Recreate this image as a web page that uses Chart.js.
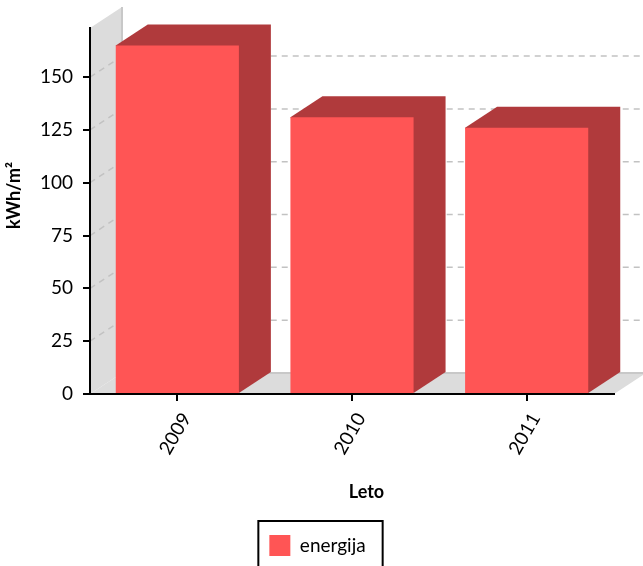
<!DOCTYPE html>
<html>
<head>
<meta charset="utf-8">
<script src="https://cdn.jsdelivr.net/npm/chart.js@4/dist/chart.umd.min.js"></script>
<style>
  html, body { margin: 0; padding: 0; background: #fff; }
</style>
</head>
<body>
<canvas id="energyChart" width="643" height="566"></canvas>
<script>
// podatki
const years = ['2009', '2010', '2011'];
const energy = [165, 131, 126];
const yStep = 25;
const yMax = 173.25;
const yTitle = 'kWh/m²';
const xTitle = 'Leto';
const seriesLabel = 'energija';

// globina 3D efekta
const DX = 32;
const DY = 21;

const frontColor = '#ff5555';
const sideColor = '#b03a3c';
const wallColor = '#dcdcdc';
const edgeColor = '#c8c8c8';
const gridColor = '#c2c2c2';
const fontFamily = 'Lato, "Open Sans", sans-serif';

function drawTitle(ctx, text, x, y, rotate) {
    ctx.save();
    ctx.translate(x, y);
    if (rotate) ctx.rotate(-Math.PI / 2);
    ctx.font = 'bold 18px ' + fontFamily;
    ctx.fillStyle = '#000';
    ctx.textAlign = 'center';
    ctx.textBaseline = 'middle';
    ctx.fillText(text, 0, 0);
    ctx.restore();
}

const box3d = {
    id: 'box3d',
    beforeDraw(chart) {
        const ctx = chart.ctx;
        const { left, right, top, bottom } = chart.chartArea;
        const yScale = chart.scales.y;
        ctx.save();

        // stena in tla
        ctx.fillStyle = wallColor;
        ctx.beginPath();
        ctx.moveTo(left, bottom);
        ctx.lineTo(left, top);
        ctx.lineTo(left + DX, top - DY);
        ctx.lineTo(left + DX, bottom - DY);
        ctx.closePath();
        ctx.fill();

        ctx.beginPath();
        ctx.moveTo(left, bottom);
        ctx.lineTo(right, bottom);
        ctx.lineTo(right + DX, bottom - DY);
        ctx.lineTo(left + DX, bottom - DY);
        ctx.closePath();
        ctx.fill();

        ctx.strokeStyle = edgeColor;
        ctx.lineWidth = 2;
        ctx.beginPath();
        ctx.moveTo(left + DX, top - DY);
        ctx.lineTo(left + DX, bottom - DY);
        ctx.lineTo(right + DX, bottom - DY);
        ctx.stroke();

        // črtkane mrežne črte
        ctx.setLineDash([6, 5]);
        ctx.lineWidth = 1.5;
        ctx.strokeStyle = gridColor;
        yScale.ticks.forEach(t => {
            if (t.value === 0) return;
            const py = yScale.getPixelForValue(t.value);
            ctx.beginPath();
            ctx.moveTo(left, py);
            ctx.lineTo(left + DX, py - DY);
            ctx.lineTo(right + DX, py - DY);
            ctx.stroke();
        });
        ctx.setLineDash([]);

        // vrh in stranica stolpcev
        ctx.fillStyle = sideColor;
        chart.getDatasetMeta(0).data.forEach(bar => {
            const { x, y, base, width } = bar.getProps(['x', 'y', 'base', 'width'], true);
            const l = x - width / 2;
            const r = x + width / 2;
            ctx.beginPath();
            ctx.moveTo(l, y);
            ctx.lineTo(l + DX, y - DY);
            ctx.lineTo(r + DX, y - DY);
            ctx.lineTo(r + DX, base - DY);
            ctx.lineTo(r, base);
            ctx.closePath();
            ctx.fill();
        });
        ctx.restore();
    },
    afterDraw(chart) {
        const ctx = chart.ctx;
        const { left, top, bottom } = chart.chartArea;

        // naslova osi (centrirana skupaj z globino)
        drawTitle(ctx, yTitle, 14, (top - DY + bottom) / 2 - 5, true);
        drawTitle(ctx, xTitle, (left + chart.width) / 2, 492, false);

        // okvir legende
        const hit = chart.legend.legendHitBoxes[0];
        if (hit) {
            ctx.save();
            ctx.strokeStyle = '#000';
            ctx.lineWidth = 2;
            ctx.strokeRect(hit.left - 11, hit.top - 14, hit.width + 28, 80);
            ctx.restore();
        }
    }
};

new Chart(document.getElementById('energyChart'), {
    type: 'bar',
    data: {
        labels: years,
        datasets: [{
            label: seriesLabel,
            data: energy,
            backgroundColor: frontColor,
            borderWidth: 0,
            barPercentage: 0.705,
            categoryPercentage: 1
        }]
    },
    options: {
        responsive: false,
        animation: false,
        layout: { padding: { top: 28, right: 29, left: 21, bottom: 0 } },
        plugins: {
            tooltip: { enabled: false },
            legend: {
                position: 'bottom',
                labels: {
                    boxWidth: 21,
                    boxHeight: 21,
                    padding: 10,
                    color: '#000',
                    font: { family: fontFamily, size: 19 }
                }
            }
        },
        scales: {
            x: {
                z: 1,
                afterFit: s => { s.height = 131; },
                grid: { offset: false, drawOnChartArea: false, drawTicks: true, tickLength: 7, color: '#000', lineWidth: 2 },
                border: { display: true, color: '#000', width: 2 },
                ticks: {
                    minRotation: 60,
                    maxRotation: 60,
                    padding: 8,
                    labelOffset: 9,
                    color: '#000',
                    font: { family: fontFamily, size: 19 }
                }
            },
            y: {
                min: 0,
                max: yMax,
                afterFit: s => { s.width = 69; },
                afterBuildTicks: s => { s.ticks = s.ticks.filter(t => t.value % yStep === 0); },
                grid: { drawOnChartArea: false, drawTicks: true, tickLength: 7, color: '#000', lineWidth: 2 },
                border: { display: true, color: '#000', width: 2 },
                ticks: {
                    stepSize: yStep,
                    padding: 10,
                    color: '#000',
                    font: { family: fontFamily, size: 19 }
                }
            }
        }
    },
    plugins: [box3d]
});
</script>
</body>
</html>
